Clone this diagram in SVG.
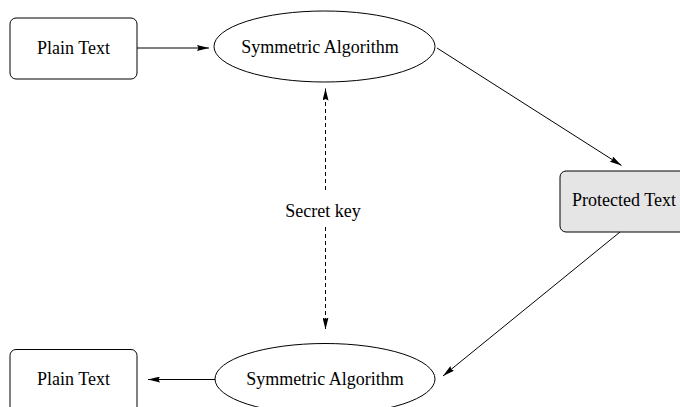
<svg xmlns="http://www.w3.org/2000/svg" width="680" height="407" viewBox="0 0 680 407">
<style>
.box{fill:#fff;stroke:#000;stroke-width:1}
.gray{fill:#e5e5e5;stroke:#000;stroke-width:1}
.ell{fill:#fff;stroke:#000;stroke-width:1}
.lbl{font-family:"Liberation Serif","Times New Roman",serif;font-size:18px;fill:#000;text-anchor:middle}
.con{fill:none;stroke:#000;stroke-width:1}
.dash{stroke-dasharray:4 3}
</style>
<defs>
<marker id="ah" markerUnits="userSpaceOnUse" viewBox="0 0 12 6" refX="12" refY="3" markerWidth="12" markerHeight="6" orient="auto-start-reverse">
<path d="M0,0 L12,3 L0,6 L1.5,3 z" fill="#000"/>
</marker>
</defs>
<rect width="680" height="407" fill="#fff"/>
<g id="plain-top">
<rect class="box" x="10" y="18" width="127" height="61" rx="6"/>
<text class="lbl" x="73.5" y="54">Plain Text</text>
</g>
<g id="sym-top">
<ellipse class="ell" cx="324.5" cy="46.5" rx="110.5" ry="35.5"/>
<text class="lbl" x="320" y="53">Symmetric Algorithm</text>
</g>
<g id="protected">
<rect class="gray" x="560" y="171" width="130" height="61" rx="6"/>
<text class="lbl" x="624" y="206">Protected Text</text>
</g>
<g id="sym-bottom">
<ellipse class="ell" cx="325" cy="379" rx="110" ry="35.5"/>
<text class="lbl" x="325" y="385">Symmetric Algorithm</text>
</g>
<g id="plain-bottom">
<rect class="box" x="10" y="349.5" width="127" height="70" rx="6"/>
<text class="lbl" x="73.5" y="385">Plain Text</text>
</g>
<g id="connectors">
<line class="con" x1="137" y1="48" x2="209" y2="48" marker-end="url(#ah)"/>
<line class="con" x1="437" y1="48" x2="621.5" y2="165.5" marker-end="url(#ah)"/>
<line class="con" x1="620" y1="232" x2="443" y2="376" marker-end="url(#ah)"/>
<line class="con" x1="215" y1="379.5" x2="148" y2="379.5" marker-end="url(#ah)"/>
<line class="con dash" x1="325.5" y1="190" x2="325.5" y2="88.5" marker-end="url(#ah)"/>
<line class="con dash" x1="325.5" y1="227" x2="325.5" y2="329.5" marker-end="url(#ah)"/>
<text class="lbl" x="323" y="217">Secret key</text>
</g>
</svg>
